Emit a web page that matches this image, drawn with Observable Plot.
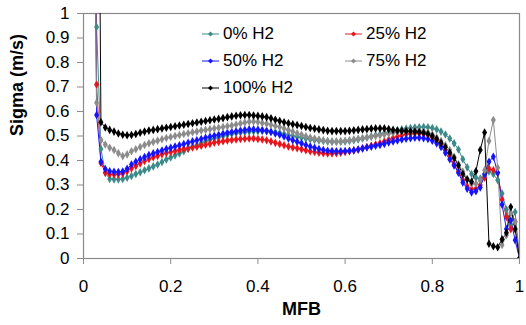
<!DOCTYPE html>
<html>
<head>
<meta charset="utf-8">
<script src="https://cdn.jsdelivr.net/npm/d3@7"></script>
<script src="https://cdn.jsdelivr.net/npm/@observablehq/plot@0.6"></script>
<style>
  html, body { margin: 0; padding: 0; background: #fff; }
  #wrap { position: relative; width: 526px; height: 325px; font-family: "Liberation Sans", Arial, sans-serif; }
  #legend { position: absolute; left: 202px; top: 20px; display: grid; grid-template-columns: 143px 150px; grid-auto-rows: 27px; font-size: 17px; color: #000; }
  .item { display: flex; align-items: center; white-space: nowrap; }
  .item svg { margin-right: 4px; }
</style>
</head>
<body>
<div id="wrap"></div>
<script>
const mfb = [0.02,0.03,0.04,0.05,0.06,0.07,0.08,0.09,0.10,0.11,0.12,0.13,0.14,0.15,0.16,0.17,0.18,0.19,0.20,0.21,0.22,0.23,0.24,0.25,0.26,0.27,0.28,0.29,0.30,0.31,0.32,0.33,0.34,0.35,0.36,0.37,0.38,0.39,0.40,0.41,0.42,0.43,0.44,0.45,0.46,0.47,0.48,0.49,0.50,0.51,0.52,0.53,0.54,0.55,0.56,0.57,0.58,0.59,0.60,0.61,0.62,0.63,0.64,0.65,0.66,0.67,0.68,0.69,0.70,0.71,0.72,0.73,0.74,0.75,0.76,0.77,0.78,0.79,0.80,0.81,0.82,0.83,0.84,0.85,0.86,0.87,0.88,0.89,0.90,0.91,0.92,0.93,0.94,0.95,0.96,0.97,0.98,0.99,1.00];

const seriesNames = ["0% H2", "25% H2", "50% H2", "75% H2", "100% H2"];
const seriesColors = ["#3d8a8a", "#e8161c", "#1414ff", "#8c8c8c", "#000000"];

const h2_0 = [3.5,0.945,0.447,0.35,0.325,0.323,0.323,0.325,0.33,0.337,0.345,0.352,0.36,0.368,0.376,0.384,0.394,0.404,0.412,0.421,0.429,0.438,0.447,0.456,0.463,0.47,0.478,0.485,
  0.49,0.495,0.5,0.505,0.509,0.512,0.514,0.516,0.518,0.519,0.52,0.52,0.519,0.517,0.515,0.512,0.508,0.504,0.5,0.497,0.494,0.49,0.487,0.484,0.482,0.48,0.478,0.477,0.477,0.477,
  0.478,0.48,0.483,0.486,0.49,0.494,0.498,0.503,0.507,0.511,0.515,0.519,0.523,0.527,0.53,0.533,0.535,0.536,0.537,0.536,0.533,
  0.527,0.518,0.506,0.49,0.47,0.445,0.405,0.372,0.345,0.33,0.326,0.335,0.355,0.345,0.32,0.265,0.2,0.14,0.19,0];

const h2_25 = [3.5,0.71,0.39,0.35,0.344,0.343,0.344,0.347,0.356,0.368,0.378,0.388,0.398,0.406,0.413,0.419,0.426,0.431,0.435,0.439,0.443,0.447,0.45,0.453,0.456,0.46,0.464,0.468,
  0.473,0.476,0.479,0.482,0.484,0.486,0.488,0.489,0.49,0.49,0.488,0.486,0.483,0.478,0.472,0.467,0.462,0.457,0.453,0.45,0.446,0.442,0.438,0.435,0.432,0.43,0.429,0.429,0.43,0.432,
  0.435,0.438,0.441,0.445,0.45,0.455,0.46,0.465,0.47,0.478,0.485,0.492,0.498,0.503,0.507,0.509,0.511,0.511,0.509,0.505,0.496,
  0.483,0.465,0.443,0.415,0.385,0.355,0.32,0.295,0.283,0.285,0.3,0.33,0.367,0.36,0.35,0.24,0.17,0.12,0.15,0];

const h2_50 = [3,0.586,0.395,0.365,0.356,0.354,0.353,0.355,0.366,0.384,0.395,0.405,0.414,0.422,0.429,0.435,0.441,0.447,0.452,0.457,0.462,0.467,0.472,0.478,0.483,0.488,0.493,0.497,
  0.501,0.505,0.509,0.513,0.516,0.519,0.522,0.525,0.527,0.527,0.526,0.524,0.521,0.516,0.51,0.505,0.498,0.49,0.483,0.477,0.47,0.463,0.457,0.452,0.447,0.443,0.44,0.439,0.438,0.438,
  0.439,0.44,0.442,0.445,0.449,0.453,0.456,0.46,0.463,0.468,0.474,0.478,0.482,0.486,0.489,0.491,0.493,0.493,0.491,0.488,0.481,
  0.47,0.455,0.432,0.405,0.38,0.35,0.31,0.285,0.27,0.275,0.29,0.345,0.395,0.415,0.35,0.22,0.12,0.155,0.075,0];

const h2_75 = [3,0.636,0.484,0.465,0.452,0.443,0.43,0.418,0.425,0.438,0.446,0.455,0.463,0.47,0.476,0.481,0.487,0.492,0.496,0.5,0.504,0.508,0.511,0.515,0.518,0.522,0.525,0.528,
  0.531,0.534,0.537,0.54,0.543,0.547,0.551,0.555,0.558,0.559,0.557,0.553,0.55,0.546,0.541,0.537,0.531,0.525,0.518,0.511,0.505,0.499,0.494,0.49,0.486,0.482,0.479,0.477,0.477,0.478,
  0.48,0.483,0.486,0.489,0.491,0.494,0.497,0.5,0.503,0.506,0.51,0.513,0.516,0.518,0.52,0.521,0.522,0.522,0.519,0.514,0.506,
  0.494,0.48,0.462,0.443,0.415,0.385,0.355,0.325,0.305,0.305,0.32,0.36,0.48,0.565,0.37,0.055,0.095,0.185,0.15,0];

const h2_100 = [3,3,0.556,0.535,0.525,0.518,0.51,0.505,0.503,0.504,0.508,0.513,0.518,0.522,0.525,0.528,0.531,0.534,0.537,0.54,0.543,0.546,0.549,0.552,0.555,0.558,0.561,0.564,
  0.567,0.57,0.573,0.577,0.58,0.583,0.585,0.586,0.586,0.584,0.582,0.58,0.577,0.572,0.566,0.561,0.556,0.552,0.548,0.545,0.541,0.537,0.533,0.53,0.527,0.524,0.521,0.52,0.52,0.52,
  0.52,0.521,0.523,0.525,0.527,0.528,0.53,0.531,0.531,0.531,0.528,0.525,0.522,0.521,0.52,0.519,0.518,0.516,0.513,0.508,0.5,
  0.488,0.472,0.455,0.432,0.41,0.38,0.345,0.322,0.313,0.356,0.443,0.514,0.06,0.05,0.046,0.078,0.105,0.21,0.12,0];

const xTicks = [0, 0.2, 0.4, 0.6, 0.8, 1];
const yTicks = [0, 0.1, 0.2, 0.3, 0.4, 0.5, 0.6, 0.7, 0.8, 0.9, 1];

const seriesValues = [h2_0, h2_25, h2_50, h2_75, h2_100];
const rows = [];
seriesNames.forEach((name, i) => {
  seriesValues[i].forEach((v, j) => rows.push({series: name, x: mfb[j], y: v}));
});

const axisStroke = "#8a8a8a";
const chart = Plot.plot({
  width: 526,
  height: 325,
  marginLeft: 83,
  marginRight: 7,
  marginTop: 13,
  marginBottom: 67,
  style: {fontFamily: "'Liberation Sans', Arial, sans-serif", fontSize: "17px", background: "white", color: "#000"},
  x: {domain: [0, 1]},
  y: {domain: [0, 1]},
  color: {domain: seriesNames, range: seriesColors},
  marks: [
    Plot.frame({stroke: axisStroke, strokeWidth: 1.2}),
    Plot.axisX({ticks: xTicks, tickSize: 6, tickPadding: 15, stroke: axisStroke, fill: "#000", label: null, tickFormat: d => String(d)}),
    Plot.axisY({ticks: yTicks, tickSize: 6, tickPadding: 8, stroke: axisStroke, fill: "#000", label: null, tickFormat: d => String(d)}),
    Plot.text(["MFB"], {frameAnchor: "bottom", dy: 56, fontWeight: "bold", fontSize: 18, fill: "#000"}),
    Plot.text(["Sigma (m/s)"], {frameAnchor: "left", dx: -66, rotate: -90, fontWeight: "bold", fontSize: 18, fill: "#000"}),
    Plot.line(rows, {x: "x", y: "y", z: "series", stroke: "series", strokeWidth: 1, clip: true}),
    Plot.dot(rows, {x: "x", y: "y", fill: "series", symbol: "diamond", r: 2.6, stroke: "none", clip: true})
  ]
});

const wrap = document.getElementById("wrap");
wrap.appendChild(chart);

const legend = document.createElement("div");
legend.id = "legend";
seriesNames.forEach((name, i) => {
  const item = document.createElement("div");
  item.className = "item";
  const c = seriesColors[i];
  item.innerHTML = `<svg width="17" height="10"><line x1="0" y1="5" x2="17" y2="5" stroke="${c}" stroke-width="1"/><path d="M8.5,2.5L11,5L8.5,7.5L6,5Z" fill="${c}"/></svg><span>${name}</span>`;
  legend.appendChild(item);
});
wrap.appendChild(legend);
</script>
</body>
</html>
